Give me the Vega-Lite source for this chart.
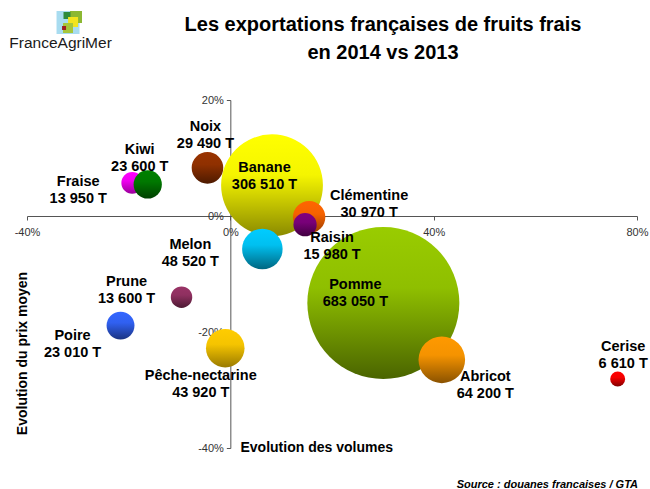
{
  "$schema": "https://vega.github.io/schema/vega-lite/v6.json",
  "width": 610,
  "height": 348,
  "autosize": {"type": "none"},
  "padding": {"left": 27, "top": 100, "right": 13, "bottom": 41},
  "background": "white",
  "config": {
    "view": {"stroke": null},
    "font": "Liberation Sans",
    "axis": {"grid": false, "domainColor": "#555555", "tickColor": "#555555", "tickSize": 4, "labelFont": "Liberation Sans", "labelFontSize": 11, "labelColor": "#333333", "labelFlush": false, "labelOverlap": false, "titleFont": "Liberation Sans", "titleFontSize": 14, "titleFontWeight": "bold", "titleColor": "black"}
  },
  "title": {
    "text": ["Les exportations françaises de fruits frais", "en 2014 vs 2013"],
    "font": "Liberation Sans",
    "fontSize": 20,
    "fontWeight": "bold",
    "lineHeight": 28,
    "anchor": "middle",
    "dx": 51,
    "offset": -52,
    "color": "black"
  },
  "data": {
    "values": [
      {"name": "Pomme", "x": 30.1, "y": -15.0, "vol": 683050, "label": "Pomme\n683 050 T"},
      {"name": "Banane", "x": 8.2, "y": 5.3, "vol": 306510, "label": "Banane\n306 510 T"},
      {"name": "Fraise", "x": -19.3, "y": 5.7, "vol": 13950, "label": "Fraise\n13 950 T"},
      {"name": "Kiwi", "x": -16.25, "y": 5.45, "vol": 23600, "label": "Kiwi\n23 600 T"},
      {"name": "Noix", "x": -4.5, "y": 8.3, "vol": 29490, "label": "Noix\n29 490 T"},
      {"name": "Clémentine", "x": 15.5, "y": -0.2, "vol": 30970, "label": "Clémentine\n30 970 T"},
      {"name": "Raisin", "x": 14.7, "y": -1.5, "vol": 15980, "label": "Raisin\n15 980 T"},
      {"name": "Melon", "x": 6.3, "y": -5.7, "vol": 48520, "label": "Melon\n48 520 T"},
      {"name": "Prune", "x": -9.6, "y": -14.0, "vol": 13600, "label": "Prune\n13 600 T"},
      {"name": "Poire", "x": -21.6, "y": -18.9, "vol": 23010, "label": "Poire\n23 010 T"},
      {"name": "Pêche-nectarine", "x": -1.0, "y": -22.8, "vol": 43920, "label": "Pêche-nectarine\n43 920 T"},
      {"name": "Abricot", "x": 41.6, "y": -24.8, "vol": 64200, "label": "Abricot\n64 200 T"},
      {"name": "Cerise", "x": 76.2, "y": -28.1, "vol": 6610, "label": "Cerise\n6 610 T"}
    ]
  },
  "layer": [
    {
      "encoding": {
        "x": {"field": "x", "type": "quantitative", "scale": {"domain": [-40, 80], "nice": false, "zero": false},
          "axis": {"values": [-40, 0, 40, 80], "labelExpr": "datum.value + '%'", "offset": -232, "labelPadding": 6,
            "title": "Evolution des volumes", "titleX": 213, "titleY": 231, "titleAlign": "left", "titleBaseline": "middle", "titleAngle": 0}},
        "y": {"field": "y", "type": "quantitative", "scale": {"domain": [-40, 20], "nice": false, "zero": false},
          "axis": {"values": [-40, -20, 0, 20], "labelExpr": "datum.value + '%'", "offset": -203.33, "labelPadding": 3,
            "title": "Evolution du prix moyen", "titleX": -208, "titleY": 253, "titleAngle": 270, "titleAlign": "center", "titleBaseline": "middle"}}
      },
      "layer": [
        {"transform": [{"filter": "datum.name === 'Pomme'"}], "mark": {"type": "point", "shape": "circle", "filled": true, "opacity": 1, "strokeWidth": 0, "fill": {"gradient": "linear", "x1": 0, "y1": 0, "x2": 0, "y2": 1, "stops": [{"offset": 0, "color": "#99cc00"}, {"offset": 0.4, "color": "#8fbf00"}, {"offset": 1, "color": "#4a6400"}]}}, "encoding": {"size": {"field": "vol", "type": "quantitative", "scale": {"domain": [0, 683050], "range": [0, 23104]}, "legend": null}}},
        {"transform": [{"filter": "datum.name === 'Banane'"}], "mark": {"type": "point", "shape": "circle", "filled": true, "opacity": 1, "strokeWidth": 0, "fill": {"gradient": "linear", "x1": 0, "y1": 0, "x2": 0, "y2": 1, "stops": [{"offset": 0, "color": "#ffff00"}, {"offset": 0.4, "color": "#f5f500"}, {"offset": 1, "color": "#8a8a00"}]}}, "encoding": {"size": {"field": "vol", "type": "quantitative", "scale": {"domain": [0, 683050], "range": [0, 23104]}, "legend": null}}},
        {"transform": [{"filter": "datum.name === 'Fraise'"}], "mark": {"type": "point", "shape": "circle", "filled": true, "opacity": 1, "strokeWidth": 0, "fill": {"gradient": "linear", "x1": 0, "y1": 0, "x2": 0, "y2": 1, "stops": [{"offset": 0, "color": "#ff00ff"}, {"offset": 0.4, "color": "#f000f0"}, {"offset": 1, "color": "#990099"}]}}, "encoding": {"size": {"field": "vol", "type": "quantitative", "scale": {"domain": [0, 683050], "range": [0, 23104]}, "legend": null}}},
        {"transform": [{"filter": "datum.name === 'Kiwi'"}], "mark": {"type": "point", "shape": "circle", "filled": true, "opacity": 1, "strokeWidth": 0, "fill": {"gradient": "linear", "x1": 0, "y1": 0, "x2": 0, "y2": 1, "stops": [{"offset": 0, "color": "#008000"}, {"offset": 0.4, "color": "#007800"}, {"offset": 1, "color": "#004000"}]}}, "encoding": {"size": {"field": "vol", "type": "quantitative", "scale": {"domain": [0, 683050], "range": [0, 23104]}, "legend": null}}},
        {"transform": [{"filter": "datum.name === 'Noix'"}], "mark": {"type": "point", "shape": "circle", "filled": true, "opacity": 1, "strokeWidth": 0, "fill": {"gradient": "linear", "x1": 0, "y1": 0, "x2": 0, "y2": 1, "stops": [{"offset": 0, "color": "#993300"}, {"offset": 0.4, "color": "#8f3000"}, {"offset": 1, "color": "#4d1a00"}]}}, "encoding": {"size": {"field": "vol", "type": "quantitative", "scale": {"domain": [0, 683050], "range": [0, 23104]}, "legend": null}}},
        {"transform": [{"filter": "datum.name === 'Clémentine'"}], "mark": {"type": "point", "shape": "circle", "filled": true, "opacity": 1, "strokeWidth": 0, "fill": {"gradient": "linear", "x1": 0, "y1": 0, "x2": 0, "y2": 1, "stops": [{"offset": 0, "color": "#ff6600"}, {"offset": 0.4, "color": "#f56200"}, {"offset": 1, "color": "#993d00"}]}}, "encoding": {"size": {"field": "vol", "type": "quantitative", "scale": {"domain": [0, 683050], "range": [0, 23104]}, "legend": null}}},
        {"transform": [{"filter": "datum.name === 'Raisin'"}], "mark": {"type": "point", "shape": "circle", "filled": true, "opacity": 1, "strokeWidth": 0, "fill": {"gradient": "linear", "x1": 0, "y1": 0, "x2": 0, "y2": 1, "stops": [{"offset": 0, "color": "#800080"}, {"offset": 0.4, "color": "#780078"}, {"offset": 1, "color": "#400040"}]}}, "encoding": {"size": {"field": "vol", "type": "quantitative", "scale": {"domain": [0, 683050], "range": [0, 23104]}, "legend": null}}},
        {"transform": [{"filter": "datum.name === 'Melon'"}], "mark": {"type": "point", "shape": "circle", "filled": true, "opacity": 1, "strokeWidth": 0, "fill": {"gradient": "linear", "x1": 0, "y1": 0, "x2": 0, "y2": 1, "stops": [{"offset": 0, "color": "#00ccff"}, {"offset": 0.4, "color": "#00c0f0"}, {"offset": 1, "color": "#006680"}]}}, "encoding": {"size": {"field": "vol", "type": "quantitative", "scale": {"domain": [0, 683050], "range": [0, 23104]}, "legend": null}}},
        {"transform": [{"filter": "datum.name === 'Prune'"}], "mark": {"type": "point", "shape": "circle", "filled": true, "opacity": 1, "strokeWidth": 0, "fill": {"gradient": "linear", "x1": 0, "y1": 0, "x2": 0, "y2": 1, "stops": [{"offset": 0, "color": "#993366"}, {"offset": 0.4, "color": "#8f3060"}, {"offset": 1, "color": "#4d1a33"}]}}, "encoding": {"size": {"field": "vol", "type": "quantitative", "scale": {"domain": [0, 683050], "range": [0, 23104]}, "legend": null}}},
        {"transform": [{"filter": "datum.name === 'Poire'"}], "mark": {"type": "point", "shape": "circle", "filled": true, "opacity": 1, "strokeWidth": 0, "fill": {"gradient": "linear", "x1": 0, "y1": 0, "x2": 0, "y2": 1, "stops": [{"offset": 0, "color": "#3366ff"}, {"offset": 0.4, "color": "#3060f0"}, {"offset": 1, "color": "#1a3380"}]}}, "encoding": {"size": {"field": "vol", "type": "quantitative", "scale": {"domain": [0, 683050], "range": [0, 23104]}, "legend": null}}},
        {"transform": [{"filter": "datum.name === 'Pêche-nectarine'"}], "mark": {"type": "point", "shape": "circle", "filled": true, "opacity": 1, "strokeWidth": 0, "fill": {"gradient": "linear", "x1": 0, "y1": 0, "x2": 0, "y2": 1, "stops": [{"offset": 0, "color": "#ffcc00"}, {"offset": 0.4, "color": "#f5c400"}, {"offset": 1, "color": "#997a00"}]}}, "encoding": {"size": {"field": "vol", "type": "quantitative", "scale": {"domain": [0, 683050], "range": [0, 23104]}, "legend": null}}},
        {"transform": [{"filter": "datum.name === 'Abricot'"}], "mark": {"type": "point", "shape": "circle", "filled": true, "opacity": 1, "strokeWidth": 0, "fill": {"gradient": "linear", "x1": 0, "y1": 0, "x2": 0, "y2": 1, "stops": [{"offset": 0, "color": "#ff9900"}, {"offset": 0.4, "color": "#f59300"}, {"offset": 1, "color": "#8a5200"}]}}, "encoding": {"size": {"field": "vol", "type": "quantitative", "scale": {"domain": [0, 683050], "range": [0, 23104]}, "legend": null}}},
        {"transform": [{"filter": "datum.name === 'Cerise'"}], "mark": {"type": "point", "shape": "circle", "filled": true, "opacity": 1, "strokeWidth": 0, "fill": {"gradient": "linear", "x1": 0, "y1": 0, "x2": 0, "y2": 1, "stops": [{"offset": 0, "color": "#ff0000"}, {"offset": 0.4, "color": "#f50000"}, {"offset": 1, "color": "#800000"}]}}, "encoding": {"size": {"field": "vol", "type": "quantitative", "scale": {"domain": [0, 683050], "range": [0, 23104]}, "legend": null}}},
        {"transform": [{"filter": "datum.name === 'Pomme'"}], "mark": {"type": "text", "font": "Liberation Sans", "fontSize": 14.5, "fontWeight": "bold", "lineBreak": "\n", "lineHeight": 17, "align": "center", "baseline": "middle", "color": "black", "dx": -28, "dy": -18.5}, "encoding": {"text": {"field": "label"}}},
        {"transform": [{"filter": "datum.name === 'Banane'"}], "mark": {"type": "text", "font": "Liberation Sans", "fontSize": 14.5, "fontWeight": "bold", "lineBreak": "\n", "lineHeight": 17, "align": "center", "baseline": "middle", "color": "black", "dx": -7.5, "dy": -17.5}, "encoding": {"text": {"field": "label"}}},
        {"transform": [{"filter": "datum.name === 'Fraise'"}], "mark": {"type": "text", "font": "Liberation Sans", "fontSize": 14.5, "fontWeight": "bold", "lineBreak": "\n", "lineHeight": 17, "align": "center", "baseline": "middle", "color": "black", "dx": -54, "dy": -1}, "encoding": {"text": {"field": "label"}}},
        {"transform": [{"filter": "datum.name === 'Kiwi'"}], "mark": {"type": "text", "font": "Liberation Sans", "fontSize": 14.5, "fontWeight": "bold", "lineBreak": "\n", "lineHeight": 17, "align": "center", "baseline": "middle", "color": "black", "dx": -8, "dy": -34.5}, "encoding": {"text": {"field": "label"}}},
        {"transform": [{"filter": "datum.name === 'Noix'"}], "mark": {"type": "text", "font": "Liberation Sans", "fontSize": 14.5, "fontWeight": "bold", "lineBreak": "\n", "lineHeight": 17, "align": "center", "baseline": "middle", "color": "black", "dx": -2, "dy": -40.5}, "encoding": {"text": {"field": "label"}}},
        {"transform": [{"filter": "datum.name === 'Clémentine'"}], "mark": {"type": "text", "font": "Liberation Sans", "fontSize": 14.5, "fontWeight": "bold", "lineBreak": "\n", "lineHeight": 17, "align": "center", "baseline": "middle", "color": "black", "dx": 60, "dy": -21.5}, "encoding": {"text": {"field": "label"}}},
        {"transform": [{"filter": "datum.name === 'Raisin'"}], "mark": {"type": "text", "font": "Liberation Sans", "fontSize": 14.5, "fontWeight": "bold", "lineBreak": "\n", "lineHeight": 17, "align": "center", "baseline": "middle", "color": "black", "dx": 27, "dy": 13.5}, "encoding": {"text": {"field": "label"}}},
        {"transform": [{"filter": "datum.name === 'Melon'"}], "mark": {"type": "text", "font": "Liberation Sans", "fontSize": 14.5, "fontWeight": "bold", "lineBreak": "\n", "lineHeight": 17, "align": "center", "baseline": "middle", "color": "black", "dx": -72, "dy": -4.5}, "encoding": {"text": {"field": "label"}}},
        {"transform": [{"filter": "datum.name === 'Prune'"}], "mark": {"type": "text", "font": "Liberation Sans", "fontSize": 14.5, "fontWeight": "bold", "lineBreak": "\n", "lineHeight": 17, "align": "center", "baseline": "middle", "color": "black", "dx": -55, "dy": -15.5}, "encoding": {"text": {"field": "label"}}},
        {"transform": [{"filter": "datum.name === 'Poire'"}], "mark": {"type": "text", "font": "Liberation Sans", "fontSize": 14.5, "fontWeight": "bold", "lineBreak": "\n", "lineHeight": 17, "align": "center", "baseline": "middle", "color": "black", "dx": -48, "dy": 10.5}, "encoding": {"text": {"field": "label"}}},
        {"transform": [{"filter": "datum.name === 'Pêche-nectarine'"}], "mark": {"type": "text", "font": "Liberation Sans", "fontSize": 14.5, "fontWeight": "bold", "lineBreak": "\n", "lineHeight": 17, "align": "center", "baseline": "middle", "color": "black", "dx": -24.5, "dy": 27.5}, "encoding": {"text": {"field": "label"}}},
        {"transform": [{"filter": "datum.name === 'Abricot'"}], "mark": {"type": "text", "font": "Liberation Sans", "fontSize": 14.5, "fontWeight": "bold", "lineBreak": "\n", "lineHeight": 17, "align": "center", "baseline": "middle", "color": "black", "dx": 43.5, "dy": 17}, "encoding": {"text": {"field": "label"}}},
        {"transform": [{"filter": "datum.name === 'Cerise'"}], "mark": {"type": "text", "font": "Liberation Sans", "fontSize": 14.5, "fontWeight": "bold", "lineBreak": "\n", "lineHeight": 17, "align": "center", "baseline": "middle", "color": "black", "dx": 5.5, "dy": -31.5}, "encoding": {"text": {"field": "label"}}}
      ]
    },
    {"data": {"values": [{"c": "a"}]}, "mark": {"type": "point", "shape": "square", "filled": true, "opacity": 1, "strokeWidth": 0, "color": "#a8dcf0"}, "encoding": {"x": {"datum": -31.93, "type": "quantitative"}, "y": {"datum": 33.36, "type": "quantitative"}, "size": {"value": 529}}},
    {"data": {"values": [{"c": "b"}]}, "mark": {"type": "point", "shape": "square", "filled": true, "opacity": 1, "strokeWidth": 0, "color": "#8cb832"}, "encoding": {"x": {"datum": -30.36, "type": "quantitative"}, "y": {"datum": 34.31, "type": "quantitative"}, "size": {"value": 144}}},
    {"data": {"values": [{"c": "c"}]}, "mark": {"type": "point", "shape": "square", "filled": true, "opacity": 1, "strokeWidth": 0, "color": "#2e8b3c"}, "encoding": {"x": {"datum": -32.13, "type": "quantitative"}, "y": {"datum": 34.57, "type": "quantitative"}, "size": {"value": 49}}},
    {"data": {"values": [{"c": "d"}]}, "mark": {"type": "point", "shape": "square", "filled": true, "opacity": 1, "strokeWidth": 0, "color": "#f2e41e"}, "encoding": {"x": {"datum": -30.94, "type": "quantitative"}, "y": {"datum": 33.45, "type": "quantitative"}, "size": {"value": 100}}},
    {"data": {"values": [{"c": "e"}]}, "mark": {"type": "point", "shape": "square", "filled": true, "opacity": 1, "strokeWidth": 0, "color": "#a6c63a"}, "encoding": {"x": {"datum": -31.93, "type": "quantitative"}, "y": {"datum": 32.41, "type": "quantitative"}, "size": {"value": 100}}},
    {"data": {"values": [{"c": "f"}]}, "mark": {"type": "point", "shape": "square", "filled": true, "opacity": 1, "strokeWidth": 0, "color": "#9e1f1f"}, "encoding": {"x": {"datum": -32.71, "type": "quantitative"}, "y": {"datum": 32.41, "type": "quantitative"}, "size": {"value": 16}}},
    {"data": {"values": [{"t": "FranceAgriMer"}]}, "mark": {"type": "text", "font": "Liberation Sans", "fontSize": 15.5, "align": "center", "baseline": "middle", "color": "#1a1a1a"}, "encoding": {"x": {"datum": -33.4, "type": "quantitative"}, "y": {"datum": 29.8, "type": "quantitative"}, "text": {"field": "t", "type": "nominal"}}},
    {"data": {"values": [{"t": "Source : douanes francaises / GTA"}]}, "mark": {"type": "text", "font": "Liberation Sans", "fontSize": 11, "fontWeight": "bold", "fontStyle": "italic", "align": "right", "baseline": "middle", "color": "black"}, "encoding": {"x": {"datum": 80.2, "type": "quantitative"}, "y": {"datum": -46.4, "type": "quantitative"}, "text": {"field": "t", "type": "nominal"}}}
  ]
}
